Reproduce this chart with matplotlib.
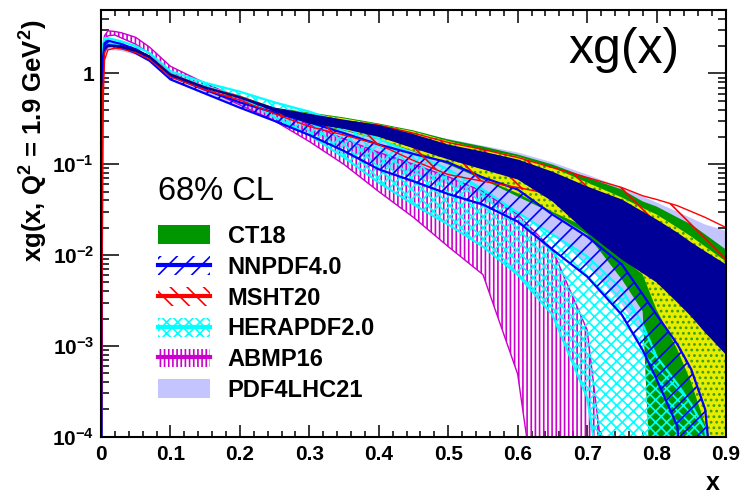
import matplotlib
matplotlib.use('Agg')
import matplotlib.pyplot as plt
from matplotlib.patches import Patch
from matplotlib.lines import Line2D
from matplotlib.ticker import MultipleLocator, LogLocator, NullFormatter, FixedLocator

plt.rcParams['font.family'] = ['Liberation Sans', 'DejaVu Sans']
plt.rcParams['mathtext.fontset'] = 'custom'
plt.rcParams['mathtext.rm'] = 'Liberation Sans'
plt.rcParams['mathtext.bf'] = 'Liberation Sans:bold'
plt.rcParams['mathtext.it'] = 'Liberation Sans:italic'
plt.rcParams['hatch.linewidth'] = 1.2

# ---------------- data ----------------
x = [0.0003, 0.002, 0.005, 0.01, 0.02, 0.03, 0.05, 0.07, 0.1, 0.15, 0.2, 0.25, 0.3, 0.35,
     0.4, 0.45, 0.5, 0.55, 0.6, 0.65, 0.7, 0.75, 0.78, 0.8, 0.83, 0.85, 0.87, 0.9]

ct18_lo = [2e-5, 0.7, 1.75, 1.95, 1.95, 1.90, 1.72, 1.45, 0.93, 0.67, 0.53, 0.37, 0.274, 0.236,
           0.1875, 0.138, 0.0995, 0.068, 0.044, 0.029, 0.0169, 0.0054, 0.0024, 1e-6, 1e-6, 1e-6, 1e-6, 1e-6]
ct18_hi = [3e-5, 0.9, 1.92, 2.08, 2.08, 2.03, 1.85, 1.57, 0.99, 0.72, 0.57, 0.42, 0.372, 0.328,
           0.281, 0.236, 0.1875, 0.157, 0.128, 0.0995, 0.0716, 0.0528, 0.039, 0.0343, 0.026, 0.0217, 0.0169, 0.0115]

ct18b_lo = [2e-5, 0.7, 1.75, 1.93, 1.93, 1.88, 1.72, 1.45, 0.93, 0.67, 0.53, 0.37, 0.274, 0.24,
            0.19, 0.14, 0.104, 0.07, 0.048, 0.03, 0.020, 0.0094, 0.0061, 0.0025, 0.00091, 0.000395, 0.000135, 1e-6]
ct18b_hi = [3e-5, 0.88, 1.9, 2.05, 2.05, 2.01, 1.84, 1.56, 0.99, 0.71, 0.565, 0.41, 0.365, 0.32,
            0.275, 0.23, 0.18, 0.1455, 0.122, 0.092, 0.063, 0.0431, 0.033, 0.028, 0.0201, 0.016, 0.0124, 0.0085]

ct18c_lo = [2e-5, 0.72, 1.78, 1.95, 1.95, 1.9, 1.73, 1.46, 0.94, 0.68, 0.53, 0.38, 0.28, 0.245,
            0.2, 0.15, 0.113, 0.0877, 0.068, 0.039, 0.0177, 0.0089, 0.0063, 0.0050, 0.003, 0.0021, 0.0014, 0.0008]
ct18c_hi = [3e-5, 0.85, 1.88, 2.08, 2.08, 2.03, 1.86, 1.58, 1.0, 0.72, 0.56, 0.42, 0.36, 0.31,
            0.27, 0.215, 0.165, 0.138, 0.113, 0.083, 0.057, 0.041, 0.0302, 0.0247, 0.0177, 0.0138, 0.011, 0.0079]

msht_lo = [2e-5, 0.25, 1.4, 1.82, 1.9, 1.86, 1.70, 1.43, 0.92, 0.66, 0.51, 0.36, 0.26, 0.21,
           0.165, 0.11, 0.077, 0.065, 0.0555, 0.0465, 0.041, 0.0318, 0.0234, 0.0182, 0.0135, 0.011, 0.0085, 0.0058]
msht_hi = [3e-5, 0.55, 1.7, 1.97, 2.03, 1.99, 1.82, 1.55, 0.99, 0.71, 0.56, 0.41, 0.34, 0.30,
           0.27, 0.22, 0.174, 0.1455, 0.1188, 0.092, 0.0716, 0.0555, 0.045, 0.041, 0.035, 0.0302, 0.026, 0.0201]

nnpdf_lo = [2e-5, 1.0, 1.9, 2.05, 2.0, 1.92, 1.68, 1.38, 0.86, 0.60, 0.42, 0.30, 0.21, 0.14,
            0.088, 0.065, 0.047, 0.036, 0.0234, 0.0115, 0.0058, 0.0022, 0.0009, 0.00043, 0.00013, 1e-6, 1e-6, 1e-6]
nnpdf_hi = [3e-5, 1.3, 2.15, 2.3, 2.2, 2.1, 1.85, 1.52, 0.94, 0.66, 0.48, 0.37, 0.29, 0.22,
            0.165, 0.13, 0.105, 0.0716, 0.0528, 0.028, 0.016, 0.0079, 0.0037, 0.0022, 0.00104, 0.00055, 0.0002, 1e-6]

hera_lo = [2e-5, 1.5, 2.1, 2.15, 2.1, 2.02, 1.8, 1.52, 0.98, 0.72, 0.56, 0.33, 0.21, 0.119,
           0.063, 0.0361, 0.0217, 0.0124, 0.0061, 0.0022, 0.00027, 1e-6, 1e-6, 1e-6, 1e-6, 1e-6, 1e-6, 1e-6]
hera_hi = [3e-5, 1.9, 2.45, 2.45, 2.35, 2.25, 2.0, 1.68, 1.06, 0.79, 0.63, 0.48, 0.38, 0.28,
           0.19, 0.13, 0.088, 0.0528, 0.0294, 0.0169, 0.0097, 0.0042, 0.00173, 0.00076, 0.00038, 0.000226, 0.00012, 1e-6]

abmp_lo = [2e-5, 1.0, 2.2, 2.6, 2.65, 2.45, 2.1, 1.65, 1.03, 0.68, 0.45, 0.30, 0.178, 0.0995,
           0.05, 0.026, 0.0124, 0.0061, 0.00049, 1e-6, 1e-6, 1e-6, 1e-6, 1e-6, 1e-6, 1e-6, 1e-6, 1e-6]
abmp_hi = [3e-5, 1.5, 2.6, 2.95, 2.9, 2.8, 2.5, 1.95, 1.2, 0.78, 0.53, 0.38, 0.274, 0.19,
           0.135, 0.1, 0.073, 0.05, 0.028, 0.0115, 0.0015, 1e-6, 1e-6, 1e-6, 1e-6, 1e-6, 1e-6, 1e-6]

pdf4lhc_lo = [2e-5, 0.6, 1.6, 1.8, 1.8, 1.76, 1.6, 1.35, 0.85, 0.6, 0.44, 0.31, 0.22, 0.15,
              0.1, 0.075, 0.06, 0.041, 0.028, 0.0169, 0.0078, 0.00286, 0.00135, 0.00071, 0.00012, 1e-6, 1e-6, 1e-6]
pdf4lhc_hi = [3e-5, 1.0, 2.0, 2.1, 2.05, 2.0, 1.82, 1.52, 0.96, 0.7, 0.55, 0.42, 0.33, 0.29,
              0.26, 0.22, 0.19, 0.16, 0.135, 0.105, 0.077, 0.0555, 0.0442, 0.038, 0.030, 0.0255, 0.0217, 0.0185]

legend_labels = ['CT18', 'NNPDF4.0', 'MSHT20', 'HERAPDF2.0', 'ABMP16', 'PDF4LHC21']
xtick_vals = [0, 0.1, 0.2, 0.3, 0.4, 0.5, 0.6, 0.7, 0.8, 0.9]
xtick_labels = ['0', '0.1', '0.2', '0.3', '0.4', '0.5', '0.6', '0.7', '0.8', '0.9']
ytick_vals = [1e-4, 1e-3, 1e-2, 1e-1, 1]
ytick_labels = [r'$\mathbf{10^{-4}}$', r'$\mathbf{10^{-3}}$', r'$\mathbf{10^{-2}}$',
                r'$\mathbf{10^{-1}}$', '1']

# ---------------- styles ----------------
GREEN = '#009600'
NAVY = '#000099'
YELLOW = '#e8ec00'
BLUE = '#0000ff'
RED = '#ff0000'
CYAN = '#00ffff'
MAGENTA = '#cc00cc'
LAV = '#c4c4ff'

fig = plt.figure(figsize=(7.47, 4.96), dpi=100)
ax = fig.add_axes([101 / 747, 1 - 436.7 / 496, 625 / 747, 426.7 / 496])
ax.set_yscale('log')
ax.set_xlim(0, 0.9)
ax.set_ylim(1e-4, 5)

# solid / dotted bands
ax.fill_between(x, pdf4lhc_lo, pdf4lhc_hi, facecolor=LAV, edgecolor='none', lw=0, zorder=1)
ax.fill_between(x, ct18_lo, ct18_hi, facecolor=GREEN, edgecolor='none', lw=0, zorder=2)
ax.fill_between(x, ct18b_lo, ct18b_hi, facecolor=YELLOW, edgecolor='#3aa000', hatch='...',
                lw=0, zorder=3)


def hatched(lo, hi, color, hatch, z, lw=1.3):
    ax.fill_between(x, lo, hi, facecolor='none', edgecolor=color, hatch=hatch, lw=0, zorder=z)
    ax.plot(x, lo, color=color, lw=lw, zorder=z)
    ax.plot(x, hi, color=color, lw=lw, zorder=z)


hatched(abmp_lo, abmp_hi, MAGENTA, '||||', 4, lw=1.0)
hatched(hera_lo, hera_hi, CYAN, 'xxx', 5, lw=1.6)
hatched(nnpdf_lo, nnpdf_hi, BLUE, '//', 6, lw=1.6)
hatched(msht_lo, msht_hi, RED, '\\', 7, lw=1.0)

ax.fill_between(x, ct18c_lo, ct18c_hi, facecolor=NAVY, edgecolor='none', lw=0, zorder=8)

# ---------------- axes styling ----------------
for s in ax.spines.values():
    s.set_linewidth(1.5)
    s.set_zorder(20)
ax.xaxis.set_major_locator(FixedLocator(xtick_vals))
ax.set_xticklabels(xtick_labels, fontsize=15, fontweight='bold')
ax.xaxis.set_minor_locator(MultipleLocator(0.02))
ax.yaxis.set_major_locator(FixedLocator(ytick_vals))
ax.set_yticklabels(ytick_labels, fontsize=15, fontweight='bold')
ax.yaxis.set_minor_locator(LogLocator(base=10, subs=range(2, 10)))
ax.yaxis.set_minor_formatter(NullFormatter())
ax.tick_params(which='both', direction='in', top=True, right=True, width=1.1, zorder=21)
ax.tick_params(axis='x', which='major', length=9, pad=6)
ax.tick_params(axis='x', which='minor', length=4.5)
ax.tick_params(axis='y', which='major', length=13, pad=5)
ax.tick_params(axis='y', which='minor', length=5.5)

fig.text(34 / 747, 1 - 141 / 496, r'xg(x, Q$^{\mathbf{2}}$ = 1.9 GeV$^{\mathbf{2}}$)',
         rotation=90, ha='center', va='center', fontsize=18.5, fontweight='bold')
fig.text(713 / 747, 1 - 483 / 496, 'x', ha='center', va='center', fontsize=18,
         fontweight='bold')

ax.text((568 - 101) / 625, (436.7 - 63) / 426.7, 'xg(x)', transform=ax.transAxes,
        ha='left', va='baseline', fontsize=36, zorder=30)
ax.text((158 - 101) / 625, (436.7 - 200) / 426.7, '68% CL', transform=ax.transAxes,
        ha='left', va='baseline', fontsize=23.5, zorder=30)

handles = [
    Patch(facecolor=GREEN, edgecolor='none', lw=0),
    (Patch(facecolor='none', edgecolor=BLUE, hatch='//', lw=0), Line2D([], [], color=BLUE, lw=3)),
    (Patch(facecolor='none', edgecolor=RED, hatch='\\\\', lw=0), Line2D([], [], color=RED, lw=3)),
    (Patch(facecolor='none', edgecolor=CYAN, hatch='xxx', lw=0), Line2D([], [], color=CYAN, lw=3)),
    (Patch(facecolor='none', edgecolor=MAGENTA, hatch='||||', lw=0), Line2D([], [], color=MAGENTA, lw=3)),
    Patch(facecolor=LAV, edgecolor='none', lw=0),
]
leg = ax.legend(handles, legend_labels, loc='upper left',
                bbox_to_anchor=((158 - 101) / 625, (436.7 - 225) / 426.7),
                frameon=False, borderpad=0, borderaxespad=0,
                prop={'size': 17, 'weight': 'bold'},
                handlelength=2.2, handleheight=0.85, handletextpad=0.75,
                labelspacing=0.33)
leg.set_zorder(30)

fig.savefig('out.png', dpi=100)
